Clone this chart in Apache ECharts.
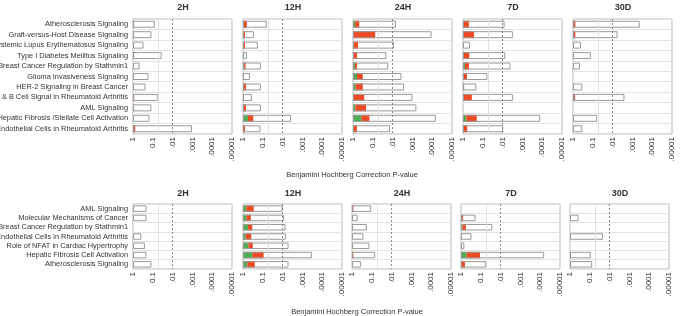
<!DOCTYPE html>
<html><head><meta charset="utf-8">
<script src="https://cdn.jsdelivr.net/npm/echarts@6/dist/echarts.min.js"></script>
<style>html,body{margin:0;padding:0;background:#fff}#c{width:681px;height:316px}</style>
</head><body><div id="c"></div>
<script>
const timepoints = ['2H','12H','24H','7D','30D'];
const tickLabels = ['1','0.1','.01','.001','.0001','.00001'];
const axisTitle = 'Benjamini Hochberg Correction P-value';

const topCategories = ['Atherosclerosis Signaling','Graft-versus-Host Disease Signaling','Systemic Lupus Erythematosus Signaling','Type I Diabetes Mellitus Signaling','Breast Cancer Regulation by Stathmin1','Glioma Invasiveness Signaling','HER-2 Signaling in Breast Cancer','T & B Cell Signal in Rheumatoid Arthritis','AML Signaling','Hepatic Fibrosis /Stellate Cell Activation','Endothelial Cells in Rheumatoid Arthritis'];
// -log10(p) bar length per timepoint (2H,12H,24H,7D,30D)
const topTotal = [
  [1.1, 0.93, 0.53, 1.45, 0.33, 0.78, 0.63, 1.28, 0.93, 0.83, 2.98],
  [1.2, 0.55, 0.75, 0.2, 0.9, 0.35, 0.9, 0.45, 0.9, 2.43, 0.88],
  [2.17, 3.97, 2.07, 1.68, 1.78, 2.45, 2.58, 3.0, 3.2, 4.18, 1.87],
  [2.1, 2.52, 0.35, 2.13, 2.4, 1.23, 0.67, 2.52, null, 3.9, 2.03],
  [3.37, 2.25, 0.4, 0.9, 0.35, null, 0.47, 2.6, null, 1.22, 0.47]
];
const topGreen = [
  [0,0,0,0,0,0,0,0,0,0,0],
  [0,0,0,0,0.06,0,0,0,0,0.25,0],
  [0.1,0,0,0,0.1,0.2,0.13,0,0.12,0.42,0.05],
  [0,0,0,0.05,0.1,0,0,0,null,0.17,0],
  [0,0,0,0,0,null,0,0,null,0,0]
];
const topRed = [
  [0.05,0.05,0,0.07,0,0.03,0,0.07,0.04,0,0.12],
  [0.2,0.1,0.1,0,0.08,0.05,0.15,0.05,0.15,0.28,0.1],
  [0.23,1.13,0.27,0.22,0.1,0.3,0.37,0.58,0.55,0.42,0.15],
  [0.3,0.57,0,0.28,0.2,0.2,0.07,0.45,null,0.53,0.22],
  [0.13,0.13,0,0.02,0,null,0,0.1,null,0.02,0]
];

const bottomCategories = ['AML Signaling','Molecular Mechanisms of Cancer','Breast Cancer Regulation by Stathmin1','Endothelial Cells in Rheumatoid Arthritis','Role of NFAT in Cardiac Hypertrophy','Hepatic Fibrosis Cell Activation','Atherosclerosis Signaling'];
const bottomTotal = [
  [0.68, 0.68, null, 0.42, 0.6, 0.68, 0.93],
  [2.0, 2.08, 2.15, 2.17, 2.3, 3.48, 2.3],
  [0.97, 0.28, 0.75, 0.58, 0.88, 1.17, 0.45],
  [null, 0.73, 1.58, 0.53, 0.17, 4.2, 1.27],
  [null, 0.43, null, 1.67, null, 1.05, 1.12]
];
const bottomGreen = [
  [0,0,null,0,0,0,0],
  [0.17,0.18,0.25,0.13,0.27,0.47,0.22],
  [0,0,0.02,0,0,0,0],
  [null,0,0.08,0,0,0.28,0],
  [null,0,null,0,null,0,0]
];
const bottomRed = [
  [0,0,null,0,0,0,0],
  [0.38,0.22,0.23,0.3,0.23,0.58,0.38],
  [0.08,0,0.03,0.02,0.03,0.08,0],
  [null,0.1,0.17,0.05,0,0.68,0.2],
  [null,0,null,0,null,0,0]
];

const RED = '#EE4B24', GREEN = '#4CAF50';
const chart = echarts.init(document.getElementById('c'));
const grids = [], xAxes = [], yAxes = [], series = [], titles = [];
const FONT = 'Liberation Sans';

function addRow(rowIdx, cats, totals, greens, reds, lefts, top, height, barW, titleTop) {
  for (let t = 0; t < 5; t++) {
    const g = grids.length;
    grids.push({left: lefts[t], top: top, width: 99, height: height, show: true, borderColor: '#b8b8b8', borderWidth: 1, backgroundColor: '#fff', containLabel: false, outerBoundsMode: 'none'});
    xAxes.push({gridIndex: g, type: 'value', min: 0, max: 5, interval: 1,
      axisLine: {show: false}, axisTick: {show: false}, splitLine: {show: false},
      axisLabel: {rotate: 90, fontSize: 8, color: '#333', margin: 3, fontFamily: FONT, showMinLabel: true, showMaxLabel: true,
        formatter: v => tickLabels[Math.round(v)]}});
    yAxes.push({gridIndex: g, type: 'category', data: cats, inverse: true,
      axisLine: {show: false}, axisTick: {show: false},
      splitLine: {show: true, lineStyle: {color: '#e3e3e3', width: 1}},
      axisLabel: {show: t === 0, fontSize: 7.4, color: '#333', margin: 5, fontFamily: FONT}});
    titles.push({text: timepoints[t], left: lefts[t] + 50, top: titleTop, textAlign: 'center', padding: 0,
      textStyle: {fontSize: 9, fontWeight: 'bold', color: '#333', fontFamily: FONT}});
    const tot = totals[t], gr = greens[t], rd = reds[t];
    const white = tot.map((v, i) => v == null ? '-' : +(v - (gr[i] || 0) - (rd[i] || 0)).toFixed(3));
    const base = {type: 'bar', xAxisIndex: g, yAxisIndex: g, barWidth: barW, silent: true, animation: false};
    series.push(Object.assign({}, base, {stack: 's' + g, data: gr.map(v => v == null ? '-' : v), itemStyle: {color: GREEN}}));
    series.push(Object.assign({}, base, {stack: 's' + g, data: rd.map(v => v == null ? '-' : v), itemStyle: {color: RED}}));
    series.push(Object.assign({}, base, {stack: 's' + g, data: white, itemStyle: {color: '#fff'}}));
    series.push(Object.assign({}, base, {data: tot.map(v => v == null ? '-' : v), barGap: '-100%', z: 4,
      itemStyle: {color: 'rgba(0,0,0,0)', borderColor: '#999', borderWidth: 1},
      markLine: {silent: true, symbol: 'none', label: {show: false}, animation: false,
        data: [
          {xAxis: 1.3, lineStyle: {color: '#e0e0e0', type: 'solid', width: 1}},
          {xAxis: 2, lineStyle: {color: '#888', type: [2, 2], width: 1}}
        ]}}));
  }
}

addRow(0, topCategories, topTotal, topGreen, topRed, [133, 243, 353, 463, 573], 19, 115, 7, 3);
addRow(1, bottomCategories, bottomTotal, bottomGreen, bottomRed, [133, 243, 352, 461, 570], 204, 65, 6.5, 189);

titles.push({text: axisTitle, left: 352, top: 171, textAlign: 'center', padding: 0, textStyle: {fontSize: 7.5, fontWeight: 'normal', color: '#333', fontFamily: FONT}});
titles.push({text: axisTitle, left: 357, top: 308, textAlign: 'center', padding: 0, textStyle: {fontSize: 7.5, fontWeight: 'normal', color: '#333', fontFamily: FONT}});

chart.setOption({animation: false, title: titles, grid: grids, xAxis: xAxes, yAxis: yAxes, series: series});
</script></body></html>
